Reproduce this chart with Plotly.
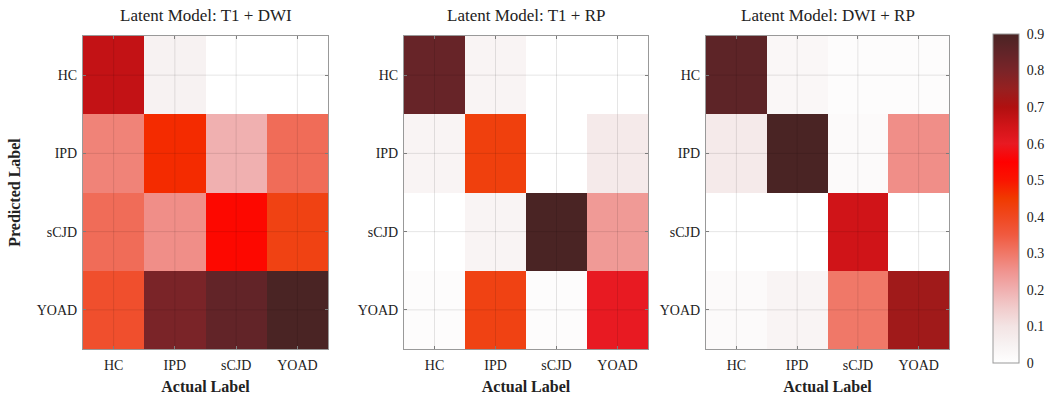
import plotly.graph_objects as go

labels = ["HC", "IPD", "sCJD", "YOAD"]
titles = ["Latent Model: T1 + DWI", "Latent Model: T1 + RP", "Latent Model: DWI + RP"]

# rows = predicted label, cols = actual label
z_t1_dwi = [
    [0.67, 0.05, 0.00, 0.00],
    [0.28, 0.47, 0.20, 0.32],
    [0.32, 0.26, 0.53, 0.42],
    [0.38, 0.80, 0.85, 0.90],
]
z_t1_rp = [
    [0.84, 0.04, 0.00, 0.00],
    [0.04, 0.43, 0.00, 0.08],
    [0.00, 0.04, 0.90, 0.24],
    [0.01, 0.42, 0.01, 0.60],
]
z_dwi_rp = [
    [0.86, 0.03, 0.01, 0.01],
    [0.08, 0.90, 0.02, 0.26],
    [0.00, 0.00, 0.65, 0.00],
    [0.02, 0.04, 0.30, 0.73],
]
matrices = [z_t1_dwi, z_t1_rp, z_dwi_rp]
cbar_ticks = [0, 0.1, 0.2, 0.3, 0.4, 0.5, 0.6, 0.7, 0.8, 0.9]
cbar_labels = ["0", "0.1", "0.2", "0.3", "0.4", "0.5", "0.6", "0.7", "0.8", "0.9"]

cscale = [
    [0.000, "#ffffff"],
    [0.055, "#f7f2f2"],
    [0.111, "#f3e4e4"],
    [0.167, "#f1cccc"],
    [0.222, "#f0b0b0"],
    [0.278, "#f09490"],
    [0.333, "#f07868"],
    [0.389, "#f05a40"],
    [0.444, "#f04820"],
    [0.500, "#f03a00"],
    [0.556, "#fa1400"],
    [0.611, "#ff0000"],
    [0.667, "#e81a22"],
    [0.722, "#d01418"],
    [0.778, "#b01010"],
    [0.833, "#962020"],
    [0.889, "#7a2428"],
    [0.944, "#622428"],
    [1.000, "#4a2424"],
]

W, H = 1049, 398
px_x = [(83, 328), (404, 648), (706, 949)]
y_dom = [1 - 349 / H, 1 - 36 / H]

fig = go.Figure()
serif = "Liberation Serif"
txt = "#222222"

for i, (z, t) in enumerate(zip(matrices, titles)):
    xa = "x" if i == 0 else f"x{i+1}"
    ya = "y" if i == 0 else f"y{i+1}"
    fig.add_trace(go.Heatmap(
        z=z, x=labels, y=labels, xaxis=xa, yaxis=ya,
        colorscale=cscale, zmin=0, zmax=0.9,
        showscale=(i == 0),
        colorbar=dict(
            x=993 / W, xanchor="left", xpad=0, ypad=0,
            y=1 - 198.5 / H, yanchor="middle",
            len=329 / H, lenmode="fraction", thickness=26, thicknessmode="pixels",
            outlinecolor="#999999", outlinewidth=1,
            tickvals=cbar_ticks, ticktext=cbar_labels,
            ticks="outside", ticklen=5, tickcolor="rgba(0,0,0,0)",
            tickfont=dict(family=serif, size=14, color=txt),
        ) if i == 0 else None,
        hoverongaps=False,
    ))
    x0, x1 = px_x[i]
    ax_common = dict(
        showline=True, linecolor="#999999", linewidth=1, mirror="ticks",
        ticks="inside", ticklen=3, tickcolor="#888888",
        showgrid=False, zeroline=False, layer="above traces",
        tickfont=dict(family=serif, size=14, color=txt),
        categoryorder="array", categoryarray=labels,
    )
    xkey = "xaxis" if i == 0 else f"xaxis{i+1}"
    ykey = "yaxis" if i == 0 else f"yaxis{i+1}"
    fig.update_layout(**{
        xkey: dict(ax_common, domain=[x0 / W, x1 / W], anchor=ya, ticklabelstandoff=3,
                   title=dict(text="<b>Actual Label</b>", standoff=9,
                              font=dict(family=serif, size=16, color=txt))),
        ykey: dict(ax_common, domain=y_dom, anchor=xa, autorange="reversed",
                   ticklabelstandoff=2,
                   title=dict(text="<b>Predicted Label</b>" if i == 0 else "", standoff=12,
                              font=dict(family=serif, size=16, color=txt))),
    })
    # faint grid lines at tick positions, drawn above the cells
    for lab in labels:
        fig.add_shape(type="line", xref=xa, yref=f"{ya} domain", x0=lab, x1=lab, y0=0, y1=1,
                      line=dict(color="rgba(0,0,0,0.10)", width=1), layer="above")
        fig.add_shape(type="line", xref=f"{xa} domain", yref=ya, x0=0, x1=1, y0=lab, y1=lab,
                      line=dict(color="rgba(0,0,0,0.10)", width=1), layer="above")
    fig.add_annotation(text=t, xref="paper", yref="paper", x=(x0 + x1) / 2 / W, y=1 - 16 / H,
                       showarrow=False, xanchor="center", yanchor="middle",
                       font=dict(family=serif, size=17, color=txt))

fig.update_layout(
    width=W, height=H, margin=dict(l=0, r=0, t=0, b=0),
    paper_bgcolor="white", plot_bgcolor="white",
    showlegend=False,
)
fig.write_html("out.html")
